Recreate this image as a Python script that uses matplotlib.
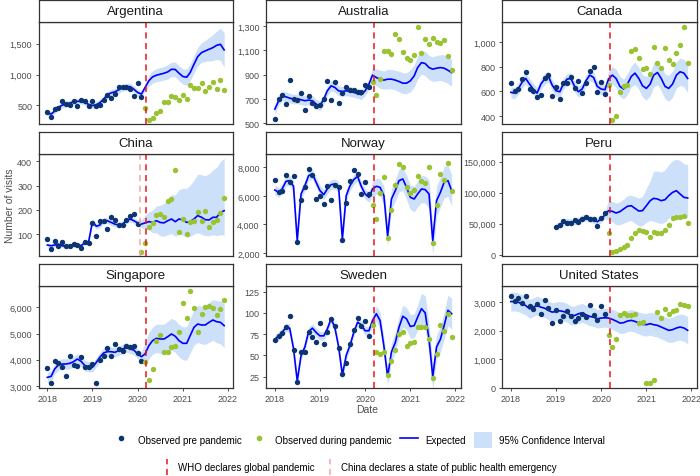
import matplotlib.pyplot as plt
import matplotlib.dates as mdates
import numpy as np
import pandas as pd
from matplotlib.lines import Line2D
from matplotlib.patches import Patch
from matplotlib.legend_handler import HandlerBase
from matplotlib.ticker import FuncFormatter

plt.rcParams['font.family'] = ['Liberation Sans', 'DejaVu Sans']

# ---- data: monthly visits, observed before / during pandemic, expected + 95% CI ----
countries = ["Argentina", "Australia", "Canada", "China", "Norway", "Peru",
             "Singapore", "Sweden", "United States"]
start_months = ["2018-01-01", "2018-01-01", "2018-01-01", "2018-01-01", "2018-01-01",
                "2019-01-01", "2018-01-01", "2018-01-01", "2018-01-01"]
who_date = "2020-03-11"
china_date = "2020-01-23"

arg_pre = [387, 312, 435, 457, 570, 527, 505, 570, 484, 586, 565, 495, 570, 489, 505, 591,
           672, 618, 688, 796, 806, 806, 774, 651, 866, 629]
arg_pand = [457, 269, 301, 376, 414, 554, 554, 651, 629, 591, 672, 602, 828, 790, 785, 871,
            731, 806, 876, 774, 919, 758]
arg_exp = [376, 360, 409, 468, 505, 522, 538, 559, 565, 570, 548, 516, 500, 511, 543, 602,
           672, 704, 720, 753, 790, 796, 806, 763, 710, 683, 790, 898, 962, 989, 1005, 1021,
           1043, 1086, 1081, 1021, 968, 957, 1032, 1167, 1290, 1355, 1382, 1409, 1435, 1473,
           1489, 1398]
arg_ci = [40, 40, 40, 40, 45, 45, 45, 45, 45, 45, 45, 45, 50, 50, 50, 50, 50, 55, 55, 55, 55,
          55, 55, 55, 55, 55, 60, 90, 100, 105, 110, 110, 115, 115, 120, 120, 125, 130, 135,
          140, 150, 160, 170, 190, 210, 230, 260, 280]

aus_pre = [533, 702, 735, 656, 860, 699, 694, 748, 606, 721, 669, 639, 653, 702, 846, 694,
           838, 669, 746, 795, 776, 776, 754, 754, 819, 795]
aus_pand = [836, 737, 863, 1095, 1095, 1073, 1234, 1190, 1087, 1037, 1018, 1065, 1294, 1081,
            1190, 1155, 1204, 1168, 1160, 1185, 1054, 939]
aus_exp = [617, 686, 726, 718, 707, 699, 702, 694, 686, 691, 686, 658, 645, 699, 767, 808,
           795, 767, 762, 767, 762, 754, 746, 735, 767, 822, 896, 876, 863, 855, 863, 863,
           855, 844, 830, 830, 849, 890, 958, 999, 991, 958, 945, 953, 958, 953, 936, 917]
aus_ci = [40, 40, 40, 40, 40, 40, 40, 40, 40, 40, 40, 40, 40, 40, 40, 40, 40, 40, 40, 40, 40,
          40, 40, 40, 40, 40, 60, 70, 75, 75, 80, 80, 80, 85, 85, 85, 90, 90, 95, 95, 100, 100,
          100, 105, 105, 110, 110, 110]

can_pre = [668, 604, 620, 700, 754, 620, 601, 558, 574, 705, 732, 561, 638, 539, 668, 668,
           716, 628, 687, 587, 668, 764, 796, 596, 673, 579]
can_pand = [654, 373, 405, 596, 641, 652, 928, 941, 866, 783, 791, 737, 960, 826, 788, 949,
            853, 820, 911, 973, 1123, 826]
can_exp = [593, 587, 620, 673, 705, 660, 620, 587, 660, 700, 721, 652, 606, 598, 660, 700,
           705, 641, 598, 620, 687, 732, 713, 641, 620, 614, 700, 732, 705, 641, 620, 660,
           721, 748, 705, 646, 625, 660, 732, 753, 705, 641, 625, 660, 732, 759, 748, 705]
can_ci = [45, 45, 45, 45, 45, 45, 45, 45, 45, 45, 45, 45, 45, 45, 45, 45, 45, 45, 45, 45, 45,
          45, 45, 45, 45, 45, 60, 70, 75, 80, 80, 85, 85, 90, 90, 90, 95, 95, 95, 100, 100,
          100, 105, 105, 105, 110, 110, 115]

chn_pre = [81, 40, 73, 53, 67, 53, 51, 60, 58, 45, 67, 66, 145, 92, 156, 156, 122, 173, 160,
           138, 138, 158, 174, 182, 142]
chn_pand = [29, 63, 129, 147, 179, 182, 173, 236, 245, 363, 108, 163, 100, 152, 155, 193, 156,
            197, 132, 149, 159, 186, 248]
chn_exp = [56, 53, 56, 60, 53, 51, 53, 56, 58, 53, 67, 70, 152, 133, 138, 156, 156, 149, 142,
           138, 142, 156, 163, 156, 147, 142, 147, 152, 149, 156, 149, 147, 156, 163, 152, 163,
           159, 149, 152, 163, 177, 170, 160, 159, 170, 170, 190, 197]
chn_lo = [8, 8, 8, 8, 8, 8, 8, 8, 8, 8, 8, 8, 12, 12, 12, 12, 12, 12, 12, 12, 12, 12, 12, 12,
          12, 15, 25, 35, 42, 50, 55, 55, 58, 60, 60, 62, 62, 60, 60, 62, 70, 70, 65, 65, 72,
          75, 92, 100]
chn_hi = [8, 8, 8, 8, 8, 8, 8, 8, 8, 8, 8, 8, 12, 12, 12, 12, 12, 12, 12, 12, 12, 12, 12, 12,
          12, 18, 30, 40, 50, 60, 70, 80, 90, 100, 110, 120, 130, 140, 150, 160, 170, 175, 180,
          190, 195, 205, 210, 215]

nor_pre = [7135, 6248, 6365, 7462, 6948, 7368, 2747, 5711, 6645, 7882, 7485, 5758, 5968, 5454,
           6691, 5711, 6785, 6598, 2934, 5478, 7018, 7788, 7532, 6155, 6948, 6155]
nor_pand = [5384, 4381, 6201, 7298, 3050, 5011, 6785, 8232, 8045, 6645, 6178, 6411, 7368, 7065,
            6878, 7998, 2700, 5361, 7532, 7111, 8279, 6318]
nor_exp = [6411, 6248, 6481, 7018, 7065, 6668, 2864, 6131, 6715, 7415, 7532, 6948, 6365, 6085,
           6481, 6785, 6831, 6598, 2980, 6015, 6715, 7135, 7368, 6668, 6131, 5898, 6481, 6668,
           6598, 6015, 3167, 5781, 6365, 7065, 7182, 6598, 5898, 5781, 6131, 6481, 6435, 6131,
           2864, 5664, 6248, 6948, 7065, 6365]
nor_ci = [350, 350, 350, 350, 350, 400, 450, 400, 350, 350, 350, 350, 350, 350, 350, 350, 350,
          400, 450, 400, 350, 350, 350, 350, 350, 350, 500, 550, 600, 650, 700, 750, 750, 800,
          800, 850, 850, 900, 900, 950, 950, 1000, 1000, 1050, 1050, 1100, 1100, 1100]

per_pre = [45200, 47300, 53800, 51600, 51100, 55400, 53200, 57000, 61300, 58100, 57500, 45700,
           59700, 66700]
per_pand = [35500, 4300, 6500, 9100, 12900, 16100, 26300, 35500, 40300, 38200, 36000, 28000,
            37100, 35500, 35500, 40300, 47800, 58600, 61300, 60700, 62900, 51600]
per_exp = [45700, 47800, 52100, 53200, 52100, 53800, 54800, 58600, 60200, 57500, 56400, 53200,
           57500, 64000, 71000, 69900, 67200, 69400, 73700, 78000, 79000, 74700, 70400, 71000,
           79000, 87100, 90900, 89800, 87100, 88700, 95200, 100500, 103200, 97800, 92500, 91400]
per_lo = [5500, 5500, 5500, 5500, 5500, 5500, 5500, 5500, 5500, 5500, 5500, 5500, 5500, 5500,
          16000, 17000, 19000, 21000, 23000, 24000, 24000, 24000, 24000, 24000, 27000, 32000,
          37000, 38000, 37000, 36000, 36000, 37000, 38000, 36000, 33000, 31000]
per_hi = [5500, 5500, 5500, 5500, 5500, 5500, 5500, 5500, 5500, 5500, 5500, 5500, 5500, 5500,
          16000, 16000, 16000, 16000, 16000, 17000, 17000, 19000, 21000, 23000, 28000, 32000,
          44000, 45000, 46000, 48000, 50000, 51000, 51000, 54000, 54000, 54000]

sgp_pre = [3674, 3114, 3953, 3864, 3737, 3369, 4131, 3801, 3775, 4093, 3737, 3737, 3826, 3102,
           4004, 4157, 4436, 4157, 4601, 4398, 4322, 4512, 4474, 4525, 4258, 3966]
sgp_pand = [3902, 3216, 3636, 4703, 4957, 4284, 4284, 4474, 4512, 5072, 6152, 5593, 6635, 5962,
            5072, 5733, 6000, 6063, 5962, 5707, 5936, 6279]
sgp_exp = [3330, 3369, 3648, 3801, 3839, 3839, 3864, 3928, 4029, 3941, 3775, 3737, 3712, 3902,
           4093, 4258, 4309, 4309, 4284, 4347, 4411, 4474, 4411, 4373, 4220, 4118, 4220, 4538,
           4729, 4818, 4792, 4792, 4881, 4983, 4894, 4729, 4627, 4627, 4919, 5237, 5364, 5326,
           5326, 5428, 5517, 5453, 5428, 5301]
sgp_ci = [200, 200, 200, 200, 200, 200, 200, 200, 200, 200, 200, 200, 180, 180, 180, 180, 180,
          180, 180, 180, 180, 180, 180, 180, 180, 180, 450, 500, 520, 540, 560, 570, 580, 600,
          610, 620, 630, 640, 660, 680, 700, 720, 740, 760, 780, 800, 820, 840]

swe_pre = [68, 73, 76, 83, 96, 56, 19, 54, 54, 78, 72, 66, 88, 64, 78, 93, 84, 59, 28, 41, 63,
           80, 94, 84, 90, 73]
swe_pand = [86, 54, 52, 54, 27, 44, 56, 75, 77, 61, 65, 66, 83, 83, 83, 69, 24, 52, 86, 79, 99,
            72]
swe_exp = [69, 73, 77, 83, 82, 58, 20, 50, 60, 78, 82, 77, 73, 73, 81, 93, 83, 60, 27, 50, 62,
           77, 89, 86, 79, 79, 91, 99, 91, 61, 25, 54, 65, 83, 96, 93, 84, 85, 95, 105, 100, 69,
           25, 60, 69, 85, 103, 99]
swe_ci = [5, 5, 5, 5, 5, 5, 6, 5, 5, 5, 5, 5, 5, 5, 5, 5, 5, 5, 6, 5, 5, 5, 5, 5, 5, 5, 7, 9, 10,
          10, 10, 11, 12, 12, 13, 13, 14, 14, 15, 18, 20, 18, 15, 14, 15, 16, 18, 18]

usa_pre = [3233, 3035, 3140, 2977, 3210, 2884, 2745, 2942, 2582, 3094, 2803, 2268, 2710, 2338,
           2500, 2698, 2500, 2349, 2454, 2593, 2466, 2919, 2535, 2361, 2884, 2570]
usa_pand = [1838, 1419, 1698, 2559, 2617, 2559, 2559, 2593, 2268, 2303, 151, 174, 256, 2663,
            2442, 2745, 2593, 2687, 2710, 2942, 2919, 2861]
usa_exp = [3024, 3024, 3001, 2942, 2884, 2768, 2826, 2884, 2826, 2791, 2710, 2652, 2675, 2698,
           2675, 2628, 2535, 2535, 2593, 2628, 2559, 2500, 2477, 2419, 2442, 2454, 2442, 2396,
           2338, 2268, 2280, 2338, 2361, 2326, 2268, 2221, 2210, 2245, 2210, 2186, 2128, 2070,
           2012, 2035, 2093, 2128, 2093, 2012]
usa_ci = [330, 330, 330, 330, 330, 330, 330, 330, 330, 330, 330, 330, 330, 330, 330, 330, 330,
          330, 330, 330, 330, 330, 330, 330, 330, 330, 340, 350, 360, 360, 370, 370, 380, 380,
          390, 390, 400, 400, 410, 410, 420, 420, 430, 440, 450, 460, 470, 480]

series = {
    "Argentina": (arg_pre, arg_pand, arg_exp, arg_ci, arg_ci),
    "Australia": (aus_pre, aus_pand, aus_exp, aus_ci, aus_ci),
    "Canada": (can_pre, can_pand, can_exp, can_ci, can_ci),
    "China": (chn_pre, chn_pand, chn_exp, chn_lo, chn_hi),
    "Norway": (nor_pre, nor_pand, nor_exp, nor_ci, nor_ci),
    "Peru": (per_pre, per_pand, per_exp, per_lo, per_hi),
    "Singapore": (sgp_pre, sgp_pand, sgp_exp, sgp_ci, sgp_ci),
    "Sweden": (swe_pre, swe_pand, swe_exp, swe_ci, swe_ci),
    "United States": (usa_pre, usa_pand, usa_exp, usa_ci, usa_ci),
}

# ---- axis settings ----
ylims = [(200, 1850), (495, 1332), (338, 1160), (11, 430), (1790, 8930), (-2150, 162400),
         (2924, 6813), (11.7, 131.6), (-15, 3570)]
yticks = [[500, 1000, 1500], [500, 700, 900, 1100, 1300], [400, 600, 800, 1000],
          [100, 200, 300, 400], [2000, 4000, 6000, 8000], [0, 50000, 100000, 150000],
          [3000, 4000, 5000, 6000], [25, 50, 75, 100, 125], [0, 1000, 2000, 3000]]

pre_col = '#0c3470'
pand_col = '#9ac332'
exp_col = '#0000ff'
ci_col = '#cce0fa'
who_col = '#e8141c'
china_col = '#f3a5a5'
dash = (0, (4, 3))
edge = '#333333'

fig = plt.figure(figsize=(7, 4.77), dpi=100)
W, H = 700.0, 477.0
col_x = [38.5, 266.0, 502.0]
row_y = [23.0, 155.0, 287.0]
pw, ph, sh = 194.5, 102.0, 22.5

d0, d1 = pd.Timestamp("2018-01-01"), pd.Timestamp("2021-12-01")
pad = (d1 - d0) * 0.05
fmt = FuncFormatter(lambda v, p: f"{v:,.0f}")

for i, name in enumerate(countries):
    r, c = divmod(i, 3)
    pre, pand, exp, lo, hi = series[name]
    exp = np.array(exp, dtype=float)
    months = pd.date_range(start_months[i], periods=len(exp), freq="MS")
    n_pre = len(pre)

    ax = fig.add_axes([col_x[c] / W, 1 - (row_y[r] + ph) / H, pw / W, ph / H])
    ax.fill_between(months, exp - np.array(lo), exp + np.array(hi), color=ci_col, lw=0, zorder=1)
    ax.plot(months, exp, color=exp_col, lw=1.2, zorder=2)
    ax.scatter(months[:n_pre], pre, s=15, color=pre_col, lw=0, zorder=3)
    ax.scatter(months[n_pre:], pand, s=15, color=pand_col, lw=0, zorder=3)
    if name == "China":
        ax.axvline(pd.Timestamp(china_date), color=china_col, ls=dash, lw=1.1, zorder=4)
    ax.axvline(pd.Timestamp(who_date), color=who_col, ls=dash, lw=1.1, zorder=4)

    ax.set_xlim(d0 - pad, d1 + pad)
    ax.set_ylim(*ylims[i])
    ax.set_yticks(yticks[i])
    ax.yaxis.set_major_formatter(fmt)
    ax.xaxis.set_major_locator(mdates.YearLocator())
    ax.xaxis.set_major_formatter(mdates.DateFormatter('%Y'))
    ax.tick_params(length=2.5, width=0.6, color=edge, labelsize=6.5, labelcolor='#4d4d4d', pad=2)
    if r < 2:
        ax.tick_params(axis='x', bottom=False, labelbottom=False)
    for s in ax.spines.values():
        s.set_color(edge)
        s.set_linewidth(0.9)

    sax = fig.add_axes([col_x[c] / W, 1 - row_y[r] / H, pw / W, sh / H])
    sax.set_xticks([])
    sax.set_yticks([])
    for s in sax.spines.values():
        s.set_color(edge)
        s.set_linewidth(0.9)
    sax.text(0.5, 0.48, name, ha='center', va='center', fontsize=9.5, color='#1a1a1a',
             transform=sax.transAxes)

fig.text(10 / W, 1 - 206 / H, "Number of visits", rotation=90, ha='center', va='center',
         fontsize=7.5, color='#4d4d4d')
fig.text(367 / W, 1 - 410 / H, "Date", ha='center', va='center', fontsize=7.5, color='#4d4d4d')


class VDashHandler(HandlerBase):
    def create_artists(self, legend, orig_handle, xdescent, ydescent, width, height,
                       fontsize, trans):
        x = width / 2 - xdescent
        ln = Line2D([x, x], [-ydescent, height - ydescent])
        ln.update_from(orig_handle)
        ln.set_transform(trans)
        return [ln]


h_pre = Line2D([], [], marker='o', ls='none', color=pre_col, ms=3)
h_pand = Line2D([], [], marker='o', ls='none', color=pand_col, ms=3)
h_exp = Line2D([], [], color=exp_col, lw=1.2)
h_ci = Patch(facecolor=ci_col, edgecolor='none')
fig.legend([h_pre, h_pand, h_exp, h_ci],
           ["Observed pre pandemic", "Observed during pandemic", "Expected", "95% Confidence Interval"],
           loc='center', bbox_to_anchor=(359 / W, 1 - 441 / H), ncol=4, frameon=False,
           fontsize=7, handlelength=1.8, handleheight=2.0, handletextpad=0.8, columnspacing=0.85)

h_who = Line2D([], [], color=who_col, ls=dash, lw=1.1)
h_china = Line2D([], [], color=china_col, ls=dash, lw=1.1)
fig.legend([h_who, h_china],
           ["WHO declares global pandemic", "China declares a state of public health emergency"],
           loc='center', bbox_to_anchor=(360 / W, 1 - 468 / H), ncol=2, frameon=False,
           fontsize=7, handlelength=0.8, handleheight=2.2, handletextpad=0.7, columnspacing=1.2,
           handler_map={Line2D: VDashHandler()})

fig.savefig("out.png", dpi=100)
